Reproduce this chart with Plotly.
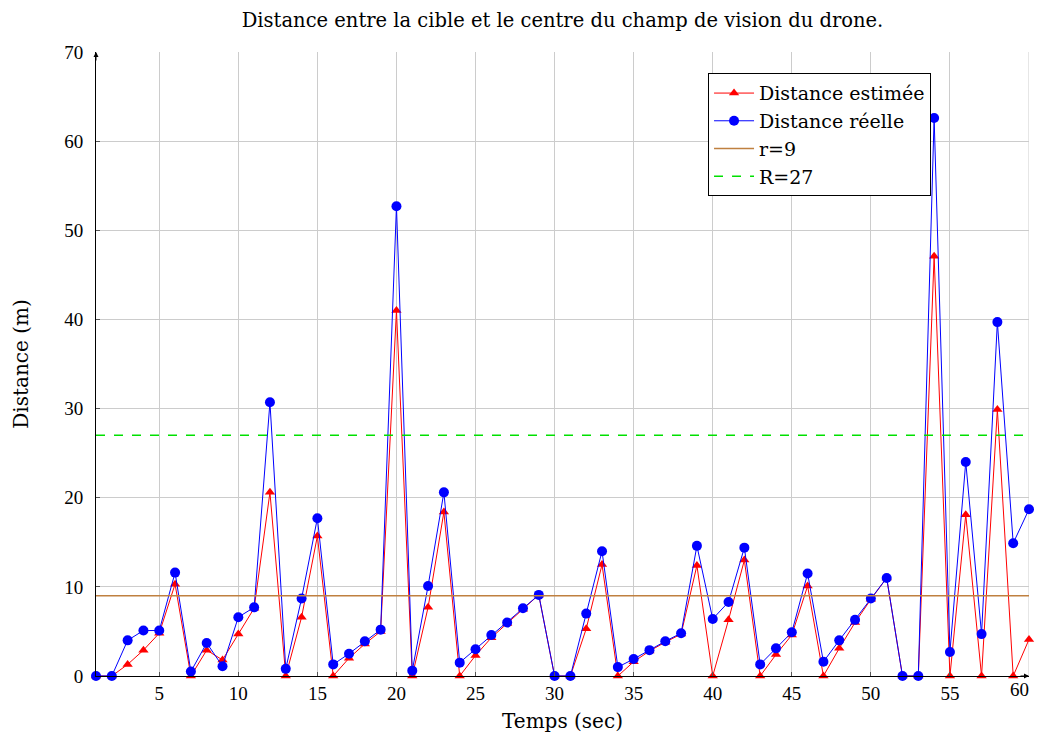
import plotly.graph_objects as go

times = list(range(1, 61))
dist_estimee = [0, 0, 1.3, 2.9, 4.8, 10.3, 0, 2.9, 1.8, 4.7, 7.6, 20.6, 0, 6.6, 15.7,
                0, 2.0, 3.6, 5.0, 41.0, 0, 7.7, 18.4, 0, 2.3, 4.3, 5.9, 7.5, 9.1, 0,
                0, 5.3, 12.5, 0, 1.6, 2.8, 3.8, 4.7, 12.4, 0, 6.3, 13.0, 0, 2.4, 4.6,
                10.1, 0, 3.1, 6.0, 8.6, 11.0, 0, 0, 47.1, 0, 18.1, 0, 29.9, 0, 4.1]
dist_reelle = [0, 0, 4.0, 5.1, 5.1, 11.6, 0.5, 3.7, 1.1, 6.6, 7.7, 30.7, 0.8, 8.7, 17.7,
               1.3, 2.5, 3.9, 5.2, 52.7, 0.6, 10.1, 20.6, 1.5, 3.0, 4.6, 6.0, 7.6, 9.1, 0,
               0, 7.0, 14.0, 1.0, 1.9, 2.9, 3.9, 4.8, 14.6, 6.4, 8.3, 14.4, 1.3, 3.1, 4.9,
               11.5, 1.6, 4.0, 6.3, 8.7, 11.0, 0, 0, 62.6, 2.7, 24.0, 4.7, 39.7, 14.9, 18.7]
r_petit = 9
R_grand = 27
x_ticks = [5, 10, 15, 20, 25, 30, 35, 40, 45, 50, 55, 60]
y_ticks = [0, 10, 20, 30, 40, 50, 60, 70]

FONT = "DejaVu Serif"
TICKFONT = "Liberation Serif"

fig = go.Figure()
fig.add_trace(go.Scatter(
    x=times, y=dist_estimee, mode="lines+markers", name="Distance estimée",
    line=dict(color="#FF0000", width=1),
    marker=dict(symbol="triangle-up", size=9, color="#FF0000"),
    cliponaxis=False))
fig.add_trace(go.Scatter(
    x=times, y=dist_reelle, mode="lines+markers", name="Distance réelle",
    line=dict(color="#0000FF", width=1),
    marker=dict(symbol="circle", size=10, color="#0000FF"),
    cliponaxis=False))
fig.add_trace(go.Scatter(
    x=[times[0], times[-1]], y=[r_petit, r_petit], mode="lines", name="r=9",
    line=dict(color="#BF8040", width=1.5)))
fig.add_trace(go.Scatter(
    x=[times[0], times[-1]], y=[R_grand, R_grand], mode="lines", name="R=27",
    xaxis="x2",
    line=dict(color="#00E000", width=1.5, dash="dash")))

fig.update_layout(
    width=1028, height=727,
    paper_bgcolor="white", plot_bgcolor="white",
    margin=dict(l=88, r=7, t=44, b=59),
    font=dict(family=FONT, color="black", size=15),
    title=dict(text="Distance entre la cible et le centre du champ de vision du drone.",
               x=0.5, xref="paper", xanchor="center", y=0.9835, yanchor="middle",
               font=dict(size=19.5, family=FONT)),
    showlegend=True,
    legend=dict(x=0.895, xanchor="right", y=0.966, yanchor="top",
                bgcolor="white", bordercolor="black", borderwidth=1,
                font=dict(size=19, family=FONT), itemwidth=40,
                tracegroupgap=0),
    xaxis2=dict(overlaying="x", anchor="y", side="bottom", range=[1, 60],
                tickvals=x_ticks[-1:], showgrid=False, showline=False,
                zeroline=False, ticks="", ticklabelposition="outside left",
                ticklabelstandoff=0,
                tickfont=dict(size=19, family=TICKFONT)),
)
fig.update_layout(xaxis=dict(
    range=[1, 60], tickvals=x_ticks[:-1], showgrid=True, gridcolor="#CCCCCC", gridwidth=1,
    showline=True, linecolor="black", linewidth=1, zeroline=False,
    ticks="inside", ticklen=4, tickcolor="#555555", ticklabelstandoff=0,
    tickfont=dict(size=19, family=TICKFONT),
    title=dict(text="Temps (sec)", font=dict(size=20, family=FONT), standoff=11)))
fig.update_layout(yaxis=dict(
    range=[0, 70], tickvals=y_ticks, showgrid=True, gridcolor="#CCCCCC", gridwidth=1,
    showline=True, linecolor="black", linewidth=1, zeroline=False,
    ticks="inside", ticklen=4, tickcolor="#555555", ticklabelstandoff=8,
    tickfont=dict(size=19, family=TICKFONT),
    title=dict(text="Distance (m)", font=dict(size=20, family=FONT), standoff=30)))

# vertical grid line at the right edge (x = 60)
fig.add_vline(x=x_ticks[-1], line=dict(color="#CCCCCC", width=1), layer="below")

# axis arrows
fig.add_annotation(x=1.0, y=0, xref="paper", yref="paper", ax=-10, ay=0,
                   axref="pixel", ayref="pixel", showarrow=True, arrowhead=2,
                   arrowsize=1, arrowwidth=1, arrowcolor="black", text="")
fig.add_annotation(x=0, y=1.0, xref="paper", yref="paper", ax=0, ay=10,
                   axref="pixel", ayref="pixel", showarrow=True, arrowhead=2,
                   arrowsize=1, arrowwidth=1, arrowcolor="black", text="")

fig.write_html("out.html", config={"displayModeBar": False})
